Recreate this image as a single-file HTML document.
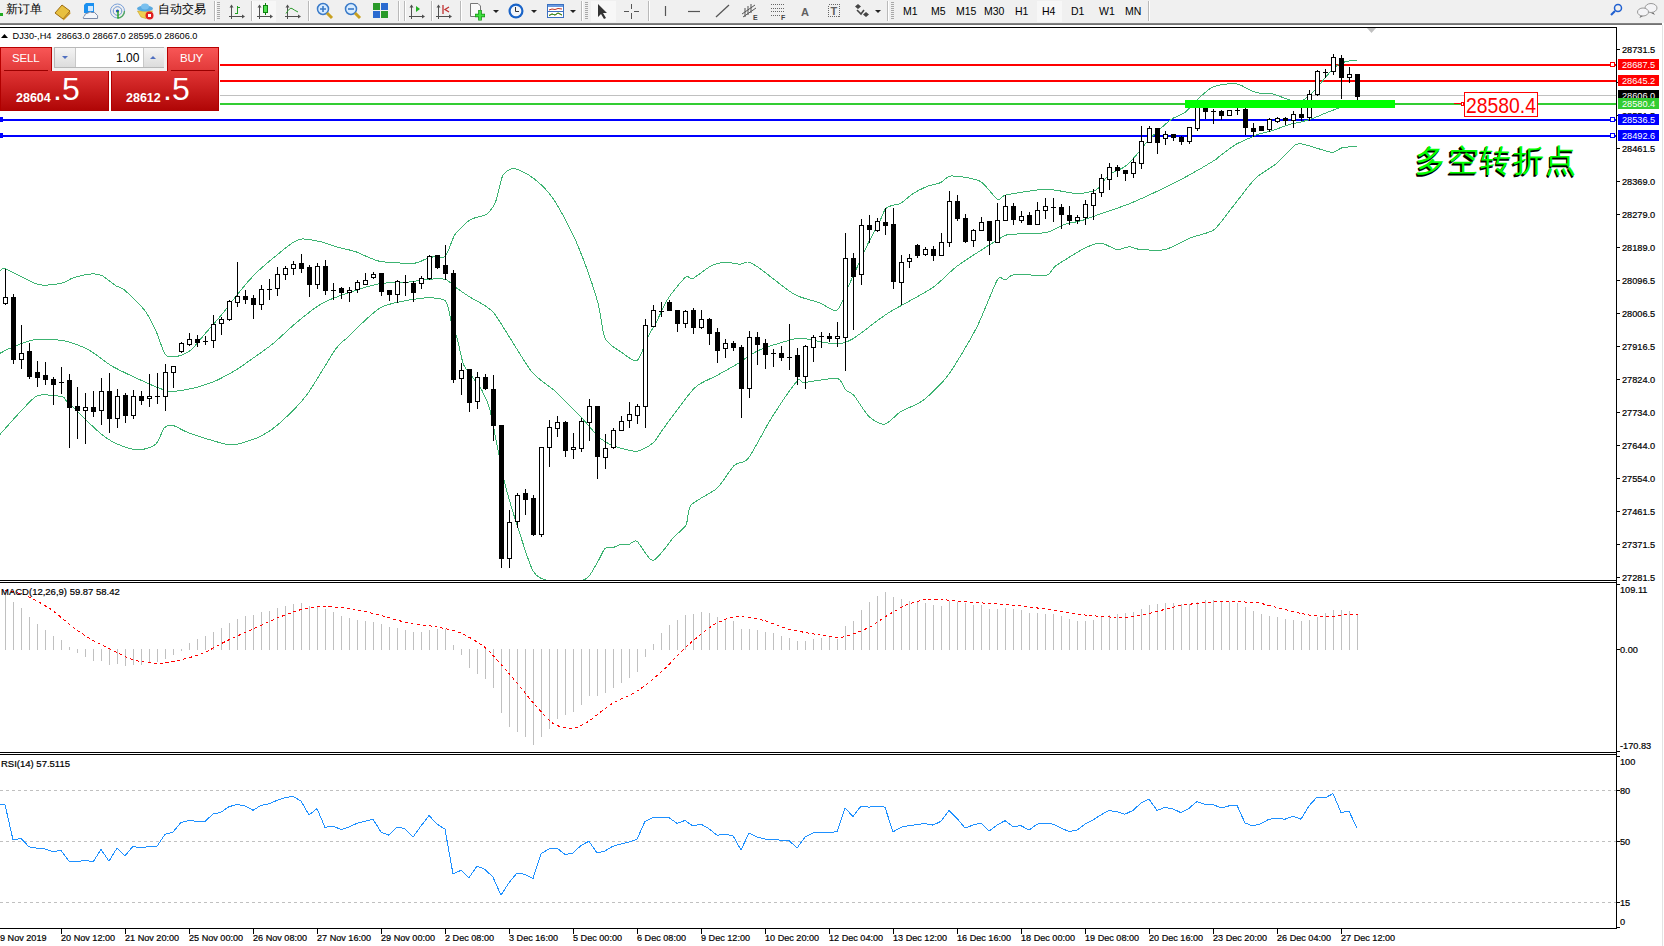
<!DOCTYPE html>
<html><head><meta charset="utf-8"><style>
html,body{margin:0;padding:0;width:1664px;height:946px;overflow:hidden;background:#fff;font-family:"Liberation Sans",sans-serif;}
#tb{position:absolute;left:0;top:0;width:1664px;height:23px;background:#f0f0f0;}
#tbl{position:absolute;left:0;top:23px;width:1662px;height:2px;background:linear-gradient(#8a8a8a,#6a6a6a);}
#rb{position:absolute;left:1662px;top:25px;width:1px;height:921px;background:#e3e3e3;}
svg{position:absolute;left:0;top:0;}
.t{position:absolute;top:4px;font-size:12px;color:#000;white-space:nowrap;}
.tf{position:absolute;top:5px;font-size:10.5px;color:#000;}
.sep{position:absolute;top:1px;width:1px;height:20px;background:#b9b9b9;border-right:1px solid #fff;}
.grip{position:absolute;top:2px;width:3px;height:18px;background:repeating-linear-gradient(#a8a8a8 0 1px,#f0f0f0 1px 2px);}
#panel div{position:absolute;}
.cn{position:absolute;left:1415px;top:140px;font-size:31px;font-weight:normal;color:#00ff00;text-shadow:-1px 1px 0 #000,-1.5px 1.5px 0 #000;letter-spacing:1.5px;white-space:nowrap;}
</style></head><body>
<div id="tb"></div><div id="tbl"></div><div id="rb"></div>
<svg width="1664" height="946" viewBox="0 0 1664 946"><g shape-rendering="crispEdges" fill="none" stroke="#000" stroke-width="1"><path d="M0 27.5H1616.5V928.5H0"/><path d="M0 580.5H1616.5M0 582.5H1616.5M0 752.5H1616.5M0 754.5H1616.5"/></g><g shape-rendering="crispEdges"><rect x="220" y="64" width="1396" height="2" fill="#f00"/><rect x="220" y="80" width="1396" height="2" fill="#f00"/><rect x="220" y="95" width="1396" height="1" fill="#c0c0c0"/><rect x="220" y="103" width="1396" height="2" fill="#32cd32"/><rect x="0" y="119" width="1616" height="2" fill="#00f"/><rect x="0" y="135" width="1616" height="2" fill="#00f"/></g><defs><clipPath id="mc"><rect x="0" y="28" width="1616" height="552"/></clipPath></defs><g fill="none" stroke="#3cb371" stroke-width="1" shape-rendering="crispEdges" clip-path="url(#mc)"><path d="M0 271.1C0.7 270.8 0.9 267.2 5.6 268.9C10.3 270.6 30.9 282.6 37.8 284.4C44.7 286.2 56.7 284.1 61.1 283.3C65.5 282.5 69.5 279 73.3 277.8C77 276.6 87.5 274.3 91.1 274C94.7 273.7 98.9 274.2 102 275.6C105.1 277.1 112.8 283.8 115.6 285.6C118.4 287.4 120.8 286.9 124.4 290C128 293.1 140.5 305 144.4 310C148.3 315 152.9 324.4 155.6 330C158.2 335.6 162.8 351.6 165.6 354.9C168.4 358.2 174.6 356.8 177.8 356.2C181 355.6 187.8 352.8 191.1 350C194.4 347.2 200.8 338.6 204.6 334.2C208.4 329.8 217.3 320 221.6 314.8C225.8 309.6 234.3 298.1 238.6 292.9C242.8 287.7 251 278.1 255.6 273.5C260.2 268.9 270.5 260.3 275.1 256.5C279.7 252.7 288.8 245.3 292.1 243.1C295.4 240.9 298.2 239.2 301.8 239C305.4 238.8 317.1 240.9 321.3 241.9C325.6 242.9 331.6 245.5 335.8 246.7C340.1 247.9 349.8 249.8 355.3 251.6C360.8 253.4 372.3 259.8 379.6 261.3C386.9 262.8 408.1 263.4 413.6 263.3C419.1 263.2 420.9 260.9 423.3 260.1C425.7 259.3 430.4 257.3 433.1 256.9C435.8 256.4 442.5 259.3 445.2 256.5C447.9 253.7 451.9 239.2 455 234.6C458.1 230 466.3 222.4 470.2 219.8C474.1 217.2 483.3 216.5 486.5 214.2C489.7 211.9 493.8 206 495.8 201.2C497.8 196.4 500.5 179.7 502.8 175.6C505.1 171.5 510.6 168.3 514.4 168.6C518.2 168.9 528.4 174.4 533 177.9C537.6 181.4 547 190.1 551.6 196.5C556.2 202.9 566.1 220.9 570.2 229C574.3 237.1 580.7 252.3 584.2 261.6C587.7 270.9 595.5 293.9 598.1 303.5C600.7 313.1 602.2 332.3 605.1 338.4C608 344.5 617.4 349.6 621.4 352.3C625.4 355.1 633.8 362.4 637.2 360.4C640.6 358.4 645.9 341 648.3 336.2C650.7 331.4 653.8 327 656.3 322.2C658.8 317.4 664.7 303.6 668.4 298C672.1 292.4 682.7 279.5 685.7 277.1C688.8 274.7 689.6 279.9 692.8 278.5C696 277.1 707.3 267.7 711.4 265.7C715.5 263.7 722 262.4 725.6 262.2C729.2 262 737 264.2 739.9 264.2C742.8 264.2 745.9 261.5 748.4 262C750.9 262.5 754.2 264.5 759.9 268.5C765.6 272.5 786.6 289.9 794.1 294.2C801.6 298.5 814.4 300.8 819.8 302.8C825.2 304.8 833.4 312.6 837.1 310.2C840.9 307.8 845.8 291.7 849.8 283.2C853.8 274.7 865.2 249.4 868.8 242C872.4 234.6 876.5 228.2 878.6 224C880.7 219.8 883.8 211.1 885.5 208.8C887.2 206.5 890.4 206.1 892.3 205.4C894.2 204.7 898 204.9 900.6 203.4C903.2 201.9 909.6 195.8 912.9 193.7C916.2 191.6 923.3 188 926.7 186.6C930.1 185.2 937.3 184 940.4 182.7C943.5 181.4 946.4 176.2 951.3 176C956.2 175.8 974 178.2 979.8 181.1C985.6 184 994.3 197.7 997.5 199.4C1000.7 201.2 999.7 196.4 1005.7 195.1C1011.7 193.8 1037 189.5 1045.8 189.3C1054.6 189.1 1070.2 193.3 1076 193.6C1081.8 193.8 1089.5 192 1092.3 191.3C1095 190.7 1096 190.4 1098 188.4C1100 186.4 1105.3 177.9 1108.7 175.2C1112.1 172.4 1121.9 168.8 1125.2 166.4C1128.5 164 1132.6 159.2 1135.3 156.2C1138 153.2 1143.7 145.6 1146.7 142.3C1149.7 139 1156.2 132.5 1159.4 129.6C1162.6 126.7 1168.9 120.9 1172.1 118.8C1175.3 116.7 1181.6 114.9 1184.8 112.5C1188 110.1 1194.2 102.4 1197.6 99.3C1200.9 96.2 1208.1 89.6 1211.6 87.7C1215.1 85.8 1222.2 84.6 1225.5 84.2C1228.8 83.8 1235 83.3 1238.3 84.2C1241.6 85.1 1249.4 90 1252.3 91.2C1255.2 92.4 1259 93.1 1261.6 93.5C1264.2 93.9 1270.2 93.4 1273.2 94.1C1276.2 94.8 1283.5 97.8 1286 98.7C1288.5 99.6 1290.8 100.8 1293 101C1295.2 101.2 1300.6 101.3 1303.3 99.9C1306 98.5 1311.4 93.6 1314.9 90C1318.4 86.4 1328 74.1 1331.2 70.8C1334.4 67.5 1338.2 64.5 1340.5 63.3C1342.8 62.1 1347.7 61.3 1349.8 60.9C1351.9 60.5 1356.1 60.4 1357 60.3"/><path d="M0 353.3C1.4 352.6 6.9 349.5 11.1 347.8C15.3 346.1 26.8 340.9 33.3 340C39.8 339.1 56.3 339.4 63.3 340.7C70.2 341.9 82.9 346.9 88.9 350C94.9 353.1 105.5 362.3 111.1 365.6C116.6 368.9 127.7 374.1 133.3 376.7C138.9 379.3 150.9 384.8 155.6 386.7C160.3 388.6 166.3 391.2 170.6 391.5C174.9 391.8 186 389.6 190 388.9C194 388.2 198.7 386.9 202.3 385.7C206 384.5 214.7 381.4 219.2 379.2C223.7 377 234.8 370.7 238.6 368.3C242.4 365.9 245.8 363.3 250 360.3C254.2 357.3 266.7 348.8 272.6 344C278.5 339.2 290.9 327.1 297 322.1C303.1 317.1 314.9 307.5 321.3 303.9C327.7 300.2 340.7 295.4 348 292.9C355.3 290.4 372 285.1 379.6 283.7C387.2 282.3 403 282.5 408.8 282C414.6 281.5 421.8 279.7 426.4 279.4C431 279.1 441.6 278.3 445.4 279.4C449.2 280.5 453.4 285.8 456.5 288C459.6 290.2 466.6 295 470 297.1C473.4 299.2 481 303.1 484 305.1C487 307.1 490.8 309.1 494.1 313.2C497.4 317.3 505.4 330.9 510.2 338.3C515 345.7 526.7 365.9 532.2 372.4C537.7 378.9 549.5 386.2 554.3 390.5C559.1 394.8 566.9 403.1 570.4 406.6C573.9 410.1 578.9 414.8 582.4 418.6C585.9 422.4 595 433.4 598.5 436.7C602 440 607.9 443.3 610.6 444.7C613.3 446.1 616.8 447.2 620.1 448C623.4 448.8 633.1 451.8 637.2 451.2C641.4 450.6 650 445.6 653.3 442.8C656.6 440 658.2 435.5 663.3 428.7C668.4 421.9 687.6 394.9 694.2 388.3C700.8 381.7 710.6 379 716 376C721.4 373 731.5 367.4 737 364.1C742.5 360.8 752.4 353 759.9 349.8C767.4 346.6 790.3 339.6 797 338.4C803.7 337.2 808.3 339.7 813.3 340.4C818.3 341.1 832 344.2 837 344C842 343.8 846.6 342.5 853 338.7C859.4 334.9 877.9 319.6 887.8 313.3C897.7 307 923.5 293.9 932.2 288C940.9 282.1 948.9 272.2 957.6 265.8C966.3 259.4 995.2 241.1 1002 237.2C1008.8 233.3 1006.5 234.9 1012 234.3C1017.5 233.7 1039.2 233.8 1045.8 232.6C1052.3 231.4 1060 225.9 1064.4 224.4C1068.8 222.9 1076.2 222.2 1080.7 220.9C1085.2 219.6 1094 216.2 1100 214.1C1106 212 1121.4 206.9 1128.5 204.1C1135.6 201.2 1150 194.7 1157.1 191.3C1164.2 187.9 1178.5 180.8 1185.6 177C1192.7 173.2 1209.9 163.2 1214.2 160.5C1218.5 157.8 1217.3 157.8 1220 155.8C1222.7 153.8 1231.9 146.7 1235.9 144.4C1239.9 142.1 1248.9 138.4 1251.7 137.1C1254.5 135.8 1255.7 135.1 1258.1 134.3C1260.5 133.6 1267.6 132.1 1270.8 131.1C1274 130.1 1280.7 127.5 1283.5 126.6C1286.3 125.6 1290.9 124 1293 123.5C1295.1 123 1297.5 122.8 1300 122.2C1302.5 121.6 1309.3 119.7 1312.6 118.5C1315.9 117.3 1323.2 114 1326.5 112.7C1329.8 111.4 1335.5 109.1 1339.3 108C1343.1 106.9 1354.8 104.5 1357 104"/><path d="M0 434.4C2.5 431.6 15.3 417 20 412.2C24.7 407.4 32.5 397.5 37.8 395.6C43.1 393.7 58.6 396 62.2 396.7C65.8 397.4 62.2 396.8 66.7 401.1C71.2 405.4 91.7 425.8 97.8 431.1C103.9 436.4 110.6 440.9 115.6 443.3C120.6 445.7 132.8 449.9 137.8 450C142.8 450.1 152.3 447.2 155.6 444.4C158.9 441.6 162.2 430.1 164.4 427.8C166.6 425.5 170.1 424.9 173.3 425.6C176.5 426.3 183.1 431 190 433.4C196.9 435.8 221.9 443.8 228.9 444.8C235.9 445.8 241.7 442.9 245.9 441.7C250.2 440.5 258.6 437.4 262.9 435.1C267.1 432.8 274.4 428 279.9 423C285.4 418 299.7 404.3 306.7 395C313.7 385.7 330.6 356.1 335.8 348.8C341 341.6 342.4 342.2 348 337C353.6 331.8 371.9 312.3 381 307.5C390.1 302.7 412.9 299.2 420.9 298.3C428.9 297.4 441.4 297.7 445.2 300.7C449 303.7 449.8 317.3 451.3 322.1C452.8 326.9 455.9 333.9 457.4 339.1C458.9 344.3 461.5 359.3 463.3 364C465.1 368.7 469.7 373.1 472 376.4C474.3 379.7 479.7 386.2 482 390.5C484.3 394.8 488.1 403.1 490.1 410.6C492.1 418.1 496.2 441.3 498.1 450.7C500 460.1 502.8 475.5 505.4 485.6C508 495.7 515.6 520.7 519.1 531.4C522.6 542.1 529.5 564.8 533 570.9C536.5 577 540.6 579.1 547 580.2C553.4 581.3 578 581.9 584.3 579.8C590.5 577.6 594.4 566.9 597 563C599.6 559.1 603 550.4 605 548.5C607 546.6 611 548 613 547.5C615 547 619 544.9 621 544.5C623 544.1 627 544.9 629 544.5C631 544.1 634 539.3 637 541.3C640 543.3 648.4 560.9 653 560.4C657.6 559.9 669.6 541.7 673.7 537.3C677.8 532.9 683.8 529 686 525C688.2 521 687.3 509.6 691.2 505C695.1 500.4 711.7 493.1 717.1 488.2C722.5 483.2 730.3 469.1 734.2 465.4C738.1 461.6 743.8 464.1 748.4 458.2C753 452.3 765.2 427.9 771.3 418.3C777.4 408.7 792.9 385.7 797 381.2C801.1 376.7 799.4 382.9 804.4 382.5C809.4 382.1 832 377.5 837.1 378.4C842.2 379.3 843.3 387.7 845.4 389.8C847.5 391.9 851.1 392.2 854 395.5C856.9 398.8 865 412.8 868.8 416.4C872.6 420 880.7 424.9 884.7 424.3C888.7 423.7 895.8 414.7 900.5 411.7C905.2 408.7 916.8 405.2 922.7 400.6C928.7 396 941.4 384.3 948.1 375.2C954.8 366.1 970.5 339.5 976.6 327.6C982.8 315.7 993.7 285.9 997.3 280C1000.9 274.1 1003 280.7 1005.2 280C1007.4 279.3 1009.6 274.9 1014.7 274.3C1019.9 273.7 1041.2 276.4 1046.4 275.3C1051.6 274.2 1051.1 269.2 1055.9 265.8C1060.7 262.4 1078.9 251.1 1084.5 248.3C1090.1 245.5 1096.7 243 1100.8 243.2C1104.9 243.3 1113.4 249.1 1117 249.5C1120.6 249.9 1126.6 246.8 1129.5 246.8C1132.4 246.8 1135.8 249.2 1140.3 249.5C1144.8 249.8 1159.2 251 1165.5 249.5C1171.8 248 1184.5 240.3 1190.6 237.8C1196.7 235.3 1208.6 233.7 1214 229.7C1219.4 225.7 1228.5 211.9 1233.7 205.5C1238.9 199.1 1249.9 183.8 1255.3 178.5C1260.7 173.2 1272 167.3 1276.9 163.2C1281.8 159 1291.7 147.7 1294.8 145.3C1297.9 142.9 1299.3 143.7 1302 144C1304.7 144.3 1312.6 146.9 1316.4 148C1320.2 149.1 1329.4 152.5 1332.5 152.5C1335.6 152.5 1338.4 148.8 1341.5 148C1344.6 147.2 1355.1 146.4 1357 146.2"/></g><g shape-rendering="crispEdges" stroke="#000" stroke-width="1"><path fill="none" d="M5.5 269V305M13.5 294V364M21.5 325V369M29.5 343V379M37.5 361V387M45.5 362V385M53.5 377V405M61.5 367V394M69.5 374V448M77.5 387V439M85.5 393V444M93.5 391V417M101.5 378V425M109.5 373V433M117.5 389V428M125.5 393V423M133.5 390V419M141.5 391V405M149.5 374V407M157.5 373V404M165.5 364V411M173.5 366V388M181.5 342V353M189.5 333V346M197.5 335V347M205.5 336V345M213.5 315V348M221.5 317V335M229.5 300V321M237.5 262V307M245.5 290V304M253.5 295V319M261.5 285V310M269.5 279V300M277.5 267V296M285.5 266V280M293.5 261V275M301.5 254V273M309.5 265V297M317.5 263V289M325.5 260V295M333.5 283V300M341.5 287V299M349.5 287V302M357.5 280V293M365.5 273V285M373.5 272V279M381.5 273V296M389.5 290V301M397.5 280V303M405.5 275V296M413.5 281V302M421.5 276V289M429.5 255V280M437.5 255V269M445.5 245V280M453.5 270V383M461.5 363V395M469.5 369V412M477.5 372V409M485.5 374V390M493.5 375V441M501.5 425V568M509.5 510V568M517.5 493V528M525.5 489V515M533.5 495V536M541.5 447V537M549.5 420V467M557.5 416V437M565.5 421V457M573.5 433V459M581.5 418V452M589.5 399V441M597.5 406V479M605.5 434V469M613.5 428V449M621.5 416V431M629.5 402V428M637.5 404V424M645.5 319V428M653.5 305V327M661.5 302V317M669.5 300V311M677.5 310V332M685.5 310V328M693.5 308V334M701.5 310V329M709.5 318V345M717.5 328V363M725.5 339V358M733.5 341V351M741.5 345V418M749.5 331V398M757.5 332V365M765.5 339V369M773.5 349V367M781.5 346V361M789.5 324V370M797.5 348V385M805.5 345V389M813.5 335V362M821.5 332V348M829.5 333V342M837.5 322V347M845.5 233V371M853.5 253V330M861.5 219V285M869.5 215V243M877.5 218V232M885.5 208V235M893.5 208V289M901.5 255V305M909.5 254V268M917.5 244V258M925.5 247V256M933.5 246V261M941.5 233V256M949.5 191V247M957.5 195V221M965.5 214V243M973.5 229V247M981.5 217V231M989.5 221V255M997.5 203V243M1005.5 195V221M1013.5 203V225M1021.5 211V223M1029.5 212V225M1037.5 202V225M1045.5 198V219M1053.5 198V222M1061.5 204V229M1069.5 206V225M1077.5 215V224M1085.5 200V225M1093.5 189V220M1101.5 174V197M1109.5 163V190M1117.5 165V177M1125.5 170V181M1133.5 158V178M1141.5 126V169M1149.5 126V143M1157.5 128V154M1165.5 131V145M1173.5 134V141M1181.5 136V145M1189.5 127V144M1197.5 102V131M1205.5 107V119M1213.5 109V124M1221.5 110V120M1229.5 110V116M1237.5 108V115M1245.5 108V135M1253.5 123V137M1261.5 126V131M1269.5 118V132M1277.5 117V123M1285.5 117V125M1293.5 111V128M1301.5 108V121M1309.5 90V121M1317.5 70V96M1325.5 69V78M1333.5 54V75M1341.5 55V99M1349.5 67V83M1357.5 74V101"/><path fill="none" d="M59 382.5H64M155 396.5H160M203 341.5H208M267 289.5H272M331 290.5H336M403 282.5H408M659 311.5H664M771 353.5H776M787 357.5H792M819 336.5H824M1051 207.5H1056M1211 111.5H1216M1235 110.5H1240M1323 72.5H1328"/><g fill="#fff"><rect x="3.5" y="297.5" width="4" height="6"/><rect x="19.5" y="353.5" width="4" height="6"/><rect x="83.5" y="407.5" width="4" height="3"/><rect x="99.5" y="391.5" width="4" height="19"/><rect x="115.5" y="396.5" width="4" height="22"/><rect x="131.5" y="396.5" width="4" height="19"/><rect x="147.5" y="396.5" width="4" height="2"/><rect x="163.5" y="372.5" width="4" height="24"/><rect x="171.5" y="366.5" width="4" height="6"/><rect x="179.5" y="343.5" width="4" height="8"/><rect x="187.5" y="339.5" width="4" height="5"/><rect x="211.5" y="324.5" width="4" height="16"/><rect x="219.5" y="319.5" width="4" height="4"/><rect x="227.5" y="301.5" width="4" height="18"/><rect x="235.5" y="296.5" width="4" height="6"/><rect x="259.5" y="289.5" width="4" height="15"/><rect x="275.5" y="274.5" width="4" height="14"/><rect x="283.5" y="268.5" width="4" height="6"/><rect x="291.5" y="264.5" width="4" height="4"/><rect x="315.5" y="266.5" width="4" height="18"/><rect x="347.5" y="290.5" width="4" height="2"/><rect x="355.5" y="282.5" width="4" height="7"/><rect x="363.5" y="280.5" width="4" height="4"/><rect x="371.5" y="274.5" width="4" height="3"/><rect x="395.5" y="281.5" width="4" height="13"/><rect x="419.5" y="278.5" width="4" height="5"/><rect x="427.5" y="256.5" width="4" height="22"/><rect x="459.5" y="370.5" width="4" height="8"/><rect x="475.5" y="377.5" width="4" height="24"/><rect x="507.5" y="522.5" width="4" height="36"/><rect x="515.5" y="495.5" width="4" height="26"/><rect x="539.5" y="447.5" width="4" height="87"/><rect x="547.5" y="427.5" width="4" height="20"/><rect x="555.5" y="422.5" width="4" height="6"/><rect x="571.5" y="447.5" width="4" height="2"/><rect x="579.5" y="421.5" width="4" height="27"/><rect x="587.5" y="406.5" width="4" height="16"/><rect x="603.5" y="448.5" width="4" height="9"/><rect x="611.5" y="430.5" width="4" height="17"/><rect x="619.5" y="421.5" width="4" height="9"/><rect x="627.5" y="414.5" width="4" height="6"/><rect x="635.5" y="406.5" width="4" height="9"/><rect x="643.5" y="325.5" width="4" height="81"/><rect x="651.5" y="310.5" width="4" height="16"/><rect x="683.5" y="311.5" width="4" height="12"/><rect x="699.5" y="319.5" width="4" height="8"/><rect x="723.5" y="343.5" width="4" height="5"/><rect x="747.5" y="337.5" width="4" height="51"/><rect x="803.5" y="346.5" width="4" height="30"/><rect x="811.5" y="337.5" width="4" height="10"/><rect x="835.5" y="336.5" width="4" height="2"/><rect x="843.5" y="258.5" width="4" height="79"/><rect x="859.5" y="225.5" width="4" height="49"/><rect x="875.5" y="221.5" width="4" height="9"/><rect x="899.5" y="262.5" width="4" height="20"/><rect x="907.5" y="258.5" width="4" height="3"/><rect x="923.5" y="249.5" width="4" height="5"/><rect x="939.5" y="242.5" width="4" height="13"/><rect x="947.5" y="201.5" width="4" height="41"/><rect x="971.5" y="230.5" width="4" height="10"/><rect x="979.5" y="222.5" width="4" height="8"/><rect x="995.5" y="220.5" width="4" height="22"/><rect x="1003.5" y="206.5" width="4" height="14"/><rect x="1019.5" y="216.5" width="4" height="4"/><rect x="1035.5" y="210.5" width="4" height="14"/><rect x="1043.5" y="206.5" width="4" height="4"/><rect x="1075.5" y="217.5" width="4" height="3"/><rect x="1083.5" y="204.5" width="4" height="13"/><rect x="1091.5" y="193.5" width="4" height="12"/><rect x="1099.5" y="178.5" width="4" height="14"/><rect x="1107.5" y="167.5" width="4" height="12"/><rect x="1131.5" y="162.5" width="4" height="11"/><rect x="1139.5" y="141.5" width="4" height="22"/><rect x="1147.5" y="128.5" width="4" height="14"/><rect x="1163.5" y="134.5" width="4" height="4"/><rect x="1187.5" y="127.5" width="4" height="14"/><rect x="1195.5" y="102.5" width="4" height="26"/><rect x="1227.5" y="110.5" width="4" height="5"/><rect x="1267.5" y="119.5" width="4" height="10"/><rect x="1275.5" y="118.5" width="4" height="3"/><rect x="1291.5" y="114.5" width="4" height="6"/><rect x="1307.5" y="94.5" width="4" height="23"/><rect x="1315.5" y="71.5" width="4" height="23"/><rect x="1331.5" y="57.5" width="4" height="14"/><rect x="1347.5" y="74.5" width="4" height="3"/></g><g fill="#000" stroke="none"><rect x="11" y="297" width="5" height="63"/><rect x="27" y="351" width="5" height="26"/><rect x="35" y="372" width="5" height="6"/><rect x="43" y="375" width="5" height="5"/><rect x="51" y="379" width="5" height="6"/><rect x="67" y="380" width="5" height="28"/><rect x="75" y="406" width="5" height="5"/><rect x="91" y="407" width="5" height="5"/><rect x="107" y="391" width="5" height="28"/><rect x="123" y="395" width="5" height="21"/><rect x="139" y="396" width="5" height="5"/><rect x="195" y="339" width="5" height="4"/><rect x="243" y="296" width="5" height="4"/><rect x="251" y="298" width="5" height="7"/><rect x="299" y="263" width="5" height="6"/><rect x="307" y="267" width="5" height="18"/><rect x="323" y="266" width="5" height="25"/><rect x="339" y="288" width="5" height="5"/><rect x="379" y="273" width="5" height="19"/><rect x="387" y="290" width="5" height="5"/><rect x="411" y="283" width="5" height="10"/><rect x="435" y="255" width="5" height="13"/><rect x="443" y="265" width="5" height="9"/><rect x="451" y="273" width="5" height="107"/><rect x="467" y="369" width="5" height="34"/><rect x="483" y="377" width="5" height="12"/><rect x="491" y="389" width="5" height="37"/><rect x="499" y="425" width="5" height="134"/><rect x="523" y="493" width="5" height="7"/><rect x="531" y="498" width="5" height="37"/><rect x="563" y="422" width="5" height="29"/><rect x="595" y="406" width="5" height="51"/><rect x="667" y="302" width="5" height="9"/><rect x="675" y="310" width="5" height="14"/><rect x="691" y="310" width="5" height="18"/><rect x="707" y="319" width="5" height="15"/><rect x="715" y="332" width="5" height="19"/><rect x="731" y="343" width="5" height="5"/><rect x="739" y="347" width="5" height="42"/><rect x="755" y="337" width="5" height="8"/><rect x="763" y="343" width="5" height="12"/><rect x="779" y="353" width="5" height="5"/><rect x="795" y="355" width="5" height="22"/><rect x="827" y="336" width="5" height="3"/><rect x="851" y="258" width="5" height="19"/><rect x="867" y="225" width="5" height="5"/><rect x="883" y="222" width="5" height="4"/><rect x="891" y="224" width="5" height="58"/><rect x="915" y="245" width="5" height="11"/><rect x="931" y="249" width="5" height="7"/><rect x="955" y="201" width="5" height="18"/><rect x="963" y="218" width="5" height="24"/><rect x="987" y="221" width="5" height="20"/><rect x="1011" y="206" width="5" height="14"/><rect x="1027" y="215" width="5" height="10"/><rect x="1059" y="207" width="5" height="8"/><rect x="1067" y="215" width="5" height="6"/><rect x="1115" y="167" width="5" height="4"/><rect x="1123" y="170" width="5" height="4"/><rect x="1155" y="128" width="5" height="15"/><rect x="1171" y="134" width="5" height="4"/><rect x="1179" y="137" width="5" height="5"/><rect x="1203" y="108" width="5" height="4"/><rect x="1219" y="111" width="5" height="5"/><rect x="1243" y="109" width="5" height="19"/><rect x="1251" y="128" width="5" height="4"/><rect x="1259" y="126" width="5" height="5"/><rect x="1283" y="118" width="5" height="3"/><rect x="1299" y="114" width="5" height="4"/><rect x="1339" y="58" width="5" height="20"/><rect x="1355" y="74" width="5" height="23"/></g></g><g shape-rendering="crispEdges"><rect x="1610.5" y="62.5" width="4" height="4" fill="#fff" stroke="#f00"/><rect x="1610.5" y="117.5" width="4" height="4" fill="#fff" stroke="#00f"/><rect x="1610.5" y="133.5" width="4" height="4" fill="#fff" stroke="#00f"/><rect x="0" y="117" width="3" height="5" fill="#00f"/><rect x="0" y="133" width="3" height="5" fill="#00f"/><rect x="1185" y="100" width="210" height="8" fill="#00ff00"/></g><g shape-rendering="crispEdges"><rect x="1454" y="103" width="8" height="1" fill="#f00"/><rect x="1461.5" y="102.5" width="2" height="3" fill="#fff" stroke="#f00"/><rect x="1464.5" y="92.5" width="73" height="24" fill="#fff" stroke="#f00"/></g><text x="1466" y="113" font-family="Liberation Sans, sans-serif" font-size="21.5" fill="#f00" textLength="70" lengthAdjust="spacingAndGlyphs">28580.4</text><g shape-rendering="crispEdges" stroke="#c0c0c0" stroke-width="1"><path d="M5.5 650V591M13.5 650V602M21.5 650V608M29.5 650V617M37.5 650V624M45.5 650V630M53.5 650V636M61.5 650V640M69.5 650V647M77.5 649V653M85.5 649V657M93.5 649V661M101.5 649V661M109.5 649V665M117.5 649V664M125.5 649V666M133.5 649V665M141.5 649V665M149.5 649V663M157.5 649V662M165.5 649V659M173.5 649V655M181.5 649V651M189.5 650V643M197.5 650V639M205.5 650V636M213.5 650V632M221.5 650V628M229.5 650V623M237.5 650V619M245.5 650V616M253.5 650V615M261.5 650V612M269.5 650V611M277.5 650V608M285.5 650V606M293.5 650V604M301.5 650V603M309.5 650V606M317.5 650V606M325.5 650V609M333.5 650V612M341.5 650V616M349.5 650V618M357.5 650V620M365.5 650V621M373.5 650V622M381.5 650V624M389.5 650V627M397.5 650V628M405.5 650V630M413.5 650V632M421.5 650V632M429.5 650V630M437.5 650V629M445.5 650V629M453.5 650V645M461.5 649V655M469.5 649V668M477.5 649V674M485.5 649V679M493.5 649V688M501.5 649V713M509.5 649V727M517.5 649V732M525.5 649V737M533.5 649V745M541.5 649V737M549.5 649V729M557.5 649V719M565.5 649V715M573.5 649V712M581.5 649V705M589.5 649V696M597.5 649V696M605.5 649V693M613.5 649V688M621.5 649V683M629.5 649V678M637.5 649V672M645.5 649V657M653.5 650V644M661.5 650V633M669.5 650V625M677.5 650V620M685.5 650V615M693.5 650V614M701.5 650V612M709.5 650V613M717.5 650V617M725.5 650V619M733.5 650V621M741.5 650V629M749.5 650V629M757.5 650V630M765.5 650V632M773.5 650V633M781.5 650V636M789.5 650V638M797.5 650V641M805.5 650V641M813.5 650V639M821.5 650V638M829.5 650V637M837.5 650V639M845.5 650V626M853.5 650V621M861.5 650V610M869.5 650V602M877.5 650V596M885.5 650V592M893.5 650V597M901.5 650V599M909.5 650V601M917.5 650V602M925.5 650V603M933.5 650V605M941.5 650V606M949.5 650V601M957.5 650V602M965.5 650V603M973.5 650V605M981.5 650V605M989.5 650V609M997.5 650V609M1005.5 650V608M1013.5 650V609M1021.5 650V610M1029.5 650V613M1037.5 650V613M1045.5 650V614M1053.5 650V614M1061.5 650V616M1069.5 650V619M1077.5 650V621M1085.5 650V621M1093.5 650V620M1101.5 650V617M1109.5 650V615M1117.5 650V614M1125.5 650V613M1133.5 650V612M1141.5 650V609M1149.5 650V605M1157.5 650V604M1165.5 650V603M1173.5 650V603M1181.5 650V604M1189.5 650V604M1197.5 650V602M1205.5 650V600M1213.5 650V600M1221.5 650V602M1229.5 650V602M1237.5 650V603M1245.5 650V607M1253.5 650V611M1261.5 650V614M1269.5 650V616M1277.5 650V617M1285.5 650V619M1293.5 650V620M1301.5 650V621M1309.5 650V620M1317.5 650V617M1325.5 650V613M1333.5 650V610M1341.5 650V610M1349.5 650V611M1357.5 650V614"/></g><path fill="none" stroke="#f00" stroke-width="1" stroke-dasharray="3,3" shape-rendering="crispEdges" d="M5 590C7.5 590.6 19.5 592.8 25.2 595.2C30.9 597.6 44.2 604.8 50.5 609.1C56.8 613.4 70 625.2 75.7 629.3C81.4 633.4 89.6 638.4 95.9 641.9C102.2 645.4 120.5 654.5 126.2 657C131.9 659.5 136.9 660.8 141.3 661.6C145.7 662.4 157.1 663.4 161.5 663.3C165.9 663.2 171.6 662 176.7 660.8C181.8 659.6 195.6 656.2 201.9 653.7C208.2 651.2 220.9 643.7 227.2 640.6C233.5 637.5 246.1 632.1 252.4 629.3C258.7 626.5 271.3 620.4 277.6 617.9C283.9 615.4 296.9 610.5 302.9 609.1C308.9 607.7 319.3 606.5 325.6 606.5C331.9 606.5 346.8 608.1 353.4 609.1C360 610.1 371.5 613.1 378.6 614.9C385.7 616.7 402.9 621.9 410 623.4C417.1 624.9 428.9 625.5 435.2 626.7C441.5 627.9 454.2 630.3 460.5 633C466.8 635.7 479.4 642.7 485.7 648.1C492 653.5 504.7 668.6 511 675.9C517.3 683.2 530.8 700.2 536.2 706.2C541.6 712.2 549.5 721.1 553.9 723.9C558.3 726.7 567.4 728.6 571.5 728.4C575.6 728.2 581.7 725.7 586.7 722.6C591.8 719.5 605.6 707.6 611.9 703.7C618.2 699.8 630.9 695.2 637.2 691.1C643.5 687 656.1 676.6 662.4 670.9C668.7 665.2 681.3 651.3 687.6 645.6C693.9 639.9 706.9 629 712.9 625.4C718.9 621.8 729.3 617.2 735.6 616.6C741.9 616 756.8 618.8 763.4 620.4C770 622 781.5 627.4 788.6 629.2C795.7 631 813.9 634 820 635C826.1 636 833.9 637.5 837.7 637.5C841.5 637.5 846.2 636.4 850.3 635C854.4 633.6 866.1 629 870.5 626.7C874.9 624.4 881.2 619.3 885.6 616.6C890 613.9 900.8 607.4 905.8 605.2C910.8 603.1 921.6 600.1 926 599.4C930.4 598.7 936.8 599.1 941.2 599.4C945.6 599.7 954.4 600.9 961.3 601.5C968.2 602.1 989.1 603.4 996.7 604C1004.3 604.6 1013.7 605.1 1021.9 606C1030.1 606.9 1054.1 610.3 1062.3 611.5C1070.5 612.7 1079.9 614.6 1087.5 615.3C1095.1 616 1115.3 617.6 1122.9 617.4C1130.5 617.2 1141.2 615 1148.1 613.6C1155 612.2 1172.1 607.3 1178.4 606C1184.7 604.7 1193.2 603.8 1198.6 603.2C1204 602.6 1214.4 601.6 1221.5 601.5C1228.6 601.4 1250 602.1 1255.5 602.5C1261 602.9 1263.1 604 1265.6 604.6C1268.1 605.2 1272.9 606.4 1275.7 607.1C1278.5 607.8 1285.1 609.5 1288.3 610.3C1291.5 611.1 1297.8 612.7 1301 613.4C1304.2 614.1 1309.3 615.2 1313.6 615.6C1317.8 616 1331.7 616.6 1335 616.6C1338.3 616.6 1337.3 615.6 1340.1 615.3C1342.9 615 1355.3 614.4 1357.5 614.3"/><g shape-rendering="crispEdges" stroke="#c0c0c0" stroke-dasharray="3,3"><path d="M0 790.5H1616"/><path d="M0 841.5H1616"/><path d="M0 902.5H1616"/></g><polyline fill="none" stroke="#1e90ff" stroke-width="1" shape-rendering="crispEdges" points="0,804.5 5,804.7 13,839.9 21,838.5 29,846.8 37,848.1 45,849 53,851.5 61,850.4 69,861.1 77,862 85,860 93,862 101,849.5 109,861.1 117,848.1 125,855.9 133,846.2 141,848.1 149,846.2 157,846.2 165,834.3 173,832.1 181,822.4 189,820.5 197,821.3 205,821.3 213,814.1 221,812.2 229,806.7 237,804.5 245,805.8 253,810.3 261,805.3 269,803.9 277,800.3 285,797.6 293,796.4 301,801.1 309,815 317,808.6 325,827.4 333,826 341,829.6 349,826.9 357,823.3 365,821.3 373,819.1 381,832.1 389,835.2 397,826.9 405,828.8 413,837.1 421,826 429,815.5 437,824.1 445,829.2 453,874 461,870.3 469,877.7 477,866.1 485,869.4 493,877.2 501,895.1 509,882.7 517,873 525,874.4 533,878.6 541,853.7 549,849 557,848.1 565,854.5 573,853.1 581,845.4 589,841.2 597,853.1 605,850.9 613,846.2 621,844 629,842.1 637,839.3 645,821.3 653,817.7 661,817.7 669,817.7 677,823.3 685,820.5 693,826 701,824.1 709,828.8 717,835.2 725,834.3 733,835.7 741,850.1 749,832.9 757,837.1 765,839 773,839 781,840.4 789,840.4 797,848.1 805,837.1 813,832.9 821,832.9 829,832.9 837,831.6 845,808.1 853,816.4 861,806.1 869,807.2 877,806.1 885,807.2 893,832 901,827.2 909,825.7 917,824.5 925,823.6 933,825.1 941,821.3 949,810.4 957,818.3 965,828 973,825.1 981,823 989,831 997,825.1 1005,820.7 1013,826.6 1021,825.7 1029,830.1 1037,824.2 1045,823 1053,824.2 1061,828 1069,831.6 1077,830.1 1085,824.2 1093,820.1 1101,814.8 1109,810.4 1117,811.8 1125,814.2 1133,810.4 1141,803 1149,799.2 1157,810.4 1165,807.4 1173,808.9 1181,812.7 1189,808.3 1197,801.5 1205,804.5 1213,804.5 1221,808 1229,805.9 1237,805.4 1245,823 1253,826 1261,823.6 1269,819.2 1277,818.3 1285,819.2 1293,816.3 1301,819.2 1309,805.9 1317,797.1 1325,798 1333,793.6 1341,812.4 1349,811.2 1357,828"/><g shape-rendering="crispEdges" stroke="#000"><path d="M1617 49.5H1620M1617 82.5H1620M1617 115.5H1620M1617 148.5H1620M1617 181.5H1620M1617 214.5H1620M1617 247.5H1620M1617 280.5H1620M1617 313.5H1620M1617 346.5H1620M1617 379.5H1620M1617 412.5H1620M1617 445.5H1620M1617 478.5H1620M1617 511.5H1620M1617 544.5H1620M1617 577.5H1620M1617 584.5H1620M1617 649.5H1620M1617 751.5H1620M1617 756.5H1620M1617 790.5H1620M1617 841.5H1620M1617 902.5H1620M1617 927.5H1620"/></g><g font-family="Liberation Sans, sans-serif" font-size="9.2" fill="#000" stroke="#000" stroke-width="0.2"><text x="1622" y="52.5">28731.5</text><text x="1622" y="118.5">28551.5</text><text x="1622" y="151.5">28461.5</text><text x="1622" y="184.5">28369.0</text><text x="1622" y="217.5">28279.0</text><text x="1622" y="250.5">28189.0</text><text x="1622" y="283.5">28096.5</text><text x="1622" y="316.5">28006.5</text><text x="1622" y="349.5">27916.5</text><text x="1622" y="382.5">27824.0</text><text x="1622" y="415.5">27734.0</text><text x="1622" y="448.5">27644.0</text><text x="1622" y="481.5">27554.0</text><text x="1622" y="514.5">27461.5</text><text x="1622" y="547.5">27371.5</text><text x="1622" y="580.5">27281.5</text><text x="1620" y="593.0">109.11</text><text x="1620" y="653.0">0.00</text><text x="1620" y="749.0">-170.83</text><text x="1620" y="765.0">100</text><text x="1620" y="794.0">80</text><text x="1620" y="845.0">50</text><text x="1620" y="906.0">15</text><text x="1620" y="925.0">0</text></g><g font-family="Liberation Sans, sans-serif" font-size="9.2"><rect x="1618" y="59" width="41" height="11" fill="#ff0000" shape-rendering="crispEdges"/><text x="1622" y="68" fill="#fff">28687.5</text><rect x="1618" y="75" width="41" height="11" fill="#ff0000" shape-rendering="crispEdges"/><text x="1622" y="84" fill="#fff">28645.2</text><rect x="1618" y="90" width="41" height="11" fill="#000" shape-rendering="crispEdges"/><text x="1622" y="99" fill="#fff">28606.0</text><rect x="1618" y="98" width="41" height="11" fill="#32cd32" shape-rendering="crispEdges"/><text x="1622" y="107" fill="#fff">28580.4</text><rect x="1618" y="114" width="41" height="11" fill="#0000ff" shape-rendering="crispEdges"/><text x="1622" y="123" fill="#fff">28536.5</text><rect x="1618" y="130" width="41" height="11" fill="#0000ff" shape-rendering="crispEdges"/><text x="1622" y="139" fill="#fff">28492.6</text></g><g shape-rendering="crispEdges" stroke="#000"><path d="M61.5 929V934M125.5 929V934M189.5 929V934M253.5 929V934M317.5 929V934M381.5 929V934M445.5 929V934M509.5 929V934M573.5 929V934M637.5 929V934M701.5 929V934M765.5 929V934M829.5 929V934M893.5 929V934M957.5 929V934M1021.5 929V934M1085.5 929V934M1149.5 929V934M1213.5 929V934M1277.5 929V934M1341.5 929V934"/></g><g font-family="Liberation Sans, sans-serif" font-size="9.1" fill="#000" stroke="#000" stroke-width="0.2"><text x="0" y="941">9 Nov 2019</text><text x="61" y="941">20 Nov 12:00</text><text x="125" y="941">21 Nov 20:00</text><text x="189" y="941">25 Nov 00:00</text><text x="253" y="941">26 Nov 08:00</text><text x="317" y="941">27 Nov 16:00</text><text x="381" y="941">29 Nov 00:00</text><text x="445" y="941">2 Dec 08:00</text><text x="509" y="941">3 Dec 16:00</text><text x="573" y="941">5 Dec 00:00</text><text x="637" y="941">6 Dec 08:00</text><text x="701" y="941">9 Dec 12:00</text><text x="765" y="941">10 Dec 20:00</text><text x="829" y="941">12 Dec 04:00</text><text x="893" y="941">13 Dec 12:00</text><text x="957" y="941">16 Dec 16:00</text><text x="1021" y="941">18 Dec 00:00</text><text x="1085" y="941">19 Dec 08:00</text><text x="1149" y="941">20 Dec 16:00</text><text x="1213" y="941">23 Dec 20:00</text><text x="1277" y="941">26 Dec 04:00</text><text x="1341" y="941">27 Dec 12:00</text><text x="1" y="595" font-size="9.5">MACD(12,26,9) 59.87 58.42</text><text x="1" y="767" font-size="9.5">RSI(14) 57.5115</text></g><path d="M1 38L4.5 34L8 38Z" fill="#000"/><text x="12.5" y="39" font-family="Liberation Sans, sans-serif" font-size="9.5" fill="#000" textLength="185" lengthAdjust="spacingAndGlyphs">DJ30-,H4&#160;&#160;28663.0 28667.0 28595.0 28606.0</text><path d="M1367 28H1376L1371.5 33Z" fill="#c0c0c0"/></svg>
<div class="t" style="left:6px;top:1px">新订单</div><div class="t" style="left:158px;top:1px">自动交易</div><div class="sep" style="left:214px"></div><div class="sep" style="left:251px"></div><div class="sep" style="left:308px"></div><div class="sep" style="left:398px"></div><div class="sep" style="left:404px"></div><div class="sep" style="left:431px"></div><div class="sep" style="left:460px"></div><div class="sep" style="left:581px"></div><div class="sep" style="left:648px"></div><div class="sep" style="left:887px"></div><div class="sep" style="left:1037px"></div><div class="sep" style="left:1148px"></div><div class="grip" style="left:217px"></div><div class="grip" style="left:585px"></div><div class="grip" style="left:891px"></div><div style="position:absolute;left:253px;top:1px;width:23px;height:21px;background:#f7f7f7"></div><div style="position:absolute;left:591px;top:1px;width:25px;height:21px;background:#f7f7f7"></div><div style="position:absolute;left:1037px;top:1px;width:25px;height:21px;background:#f7f7f7"></div><div class="tf" style="left:903px">M1</div><div class="tf" style="left:931px">M5</div><div class="tf" style="left:956px">M15</div><div class="tf" style="left:984px">M30</div><div class="tf" style="left:1015px">H1</div><div class="tf" style="left:1042px">H4</div><div class="tf" style="left:1071px">D1</div><div class="tf" style="left:1099px">W1</div><div class="tf" style="left:1125px">MN</div><svg width="1664" height="23" viewBox="0 0 1664 23" style="position:absolute;left:0;top:0"><rect x="0" y="13" width="3" height="3" fill="#22aa22"/><path d="M55 13L62 5L70 11L63 19Z" fill="#e8c040" stroke="#9a6a10"/><path d="M63 19L70 11.5L70.5 13.5L63.5 20.5Z" fill="#c8901a"/><path d="M84 5L86 3H94V13H84Z" fill="#1a90f0"/><rect x="88" y="6" width="5" height="5" fill="#cfe8ff"/><path d="M83.5 18.5H97.5Q98.5 15 96 14Q95 11.5 92 12.5Q90 11 88 13Q84.5 13 84.5 16Q82.5 17 83.5 18.5Z" fill="#f4f6fa" stroke="#7a8aa8"/><circle cx="117.5" cy="11" r="7" fill="none" stroke="#7aa0d8" stroke-width="1"/><circle cx="117.5" cy="11" r="4.3" fill="none" stroke="#6a94d0" stroke-width="1"/><path d="M117.5 18A7 7 0 0 0 124.5 11" stroke="#50a860" stroke-width="1.3" fill="none"/><circle cx="117.5" cy="11" r="1.6" fill="#2050c0"/><path d="M118 11V18.5" stroke="#20a020" stroke-width="1.4"/><path d="M137.5 11L152.5 11L146 18.5L141 17Z" fill="#f0d050" stroke="#c8a020" stroke-width="0.6"/><ellipse cx="145" cy="8.5" rx="8" ry="3" fill="#5aaae0"/><ellipse cx="145" cy="6.5" rx="4" ry="3" fill="#7ac0ee"/><circle cx="149.5" cy="15.5" r="4" fill="#e02020"/><rect x="148" y="14" width="3" height="3" fill="#fff"/><g shape-rendering="crispEdges" fill="#505050"><rect x="231" y="6" width="1" height="13"/><rect x="229" y="16" width="14" height="1"/></g><path d="M231.5 4.5L229.5 7.5H233.5 Z M242.0 14.5L245.0 16.5L242.0 18.5Z" fill="#505050"/><g shape-rendering="crispEdges" fill="#20a020"><rect x="237" y="6" width="1" height="8"/><rect x="238" y="7" width="2" height="1"/><rect x="235" y="13" width="2" height="1"/></g><g shape-rendering="crispEdges" fill="#505050"><rect x="259" y="6" width="1" height="13"/><rect x="257" y="16" width="14" height="1"/></g><path d="M259.5 4.5L257.5 7.5H261.5 Z M270.0 14.5L273.0 16.5L270.0 18.5Z" fill="#505050"/><path d="M265.5 3V15" stroke="#108010" shape-rendering="crispEdges"/><rect x="263.5" y="5.5" width="4" height="7" fill="#50e050" stroke="#108010" shape-rendering="crispEdges"/><g shape-rendering="crispEdges" fill="#505050"><rect x="287" y="6" width="1" height="13"/><rect x="285" y="16" width="14" height="1"/></g><path d="M287.5 4.5L285.5 7.5H289.5 Z M298.0 14.5L301.0 16.5L298.0 18.5Z" fill="#505050"/><path d="M286 13.5Q290 7 292 8.5T298 12" stroke="#2a9a2a" stroke-width="1" fill="none"/><circle cx="323" cy="9" r="5.5" fill="#d8ecff" stroke="#3a7ac8" stroke-width="1.5"/><path d="M327 13L332 18" stroke="#c8a020" stroke-width="3"/><path d="M320 9H326M323 6V12" stroke="#3a7ac8" stroke-width="1.6"/><circle cx="351" cy="9" r="5.5" fill="#d8ecff" stroke="#3a7ac8" stroke-width="1.5"/><path d="M355 13L360 18" stroke="#c8a020" stroke-width="3"/><path d="M348 9H354" stroke="#3a7ac8" stroke-width="1.6"/><rect x="373" y="3" width="7" height="7" fill="#2a9a2a"/><rect x="381" y="3" width="7" height="7" fill="#2a6ad0"/><rect x="373" y="11" width="7" height="7" fill="#2a6ad0"/><rect x="381" y="11" width="7" height="7" fill="#2a9a2a"/><g shape-rendering="crispEdges" fill="#505050"><rect x="411" y="6" width="1" height="13"/><rect x="409" y="16" width="14" height="1"/></g><path d="M411.5 4.5L409.5 7.5H413.5 Z M422.0 14.5L425.0 16.5L422.0 18.5Z" fill="#505050"/><path d="M416 6L420 9L416 12Z" fill="#20b020"/><g shape-rendering="crispEdges" fill="#505050"><rect x="438" y="6" width="1" height="13"/><rect x="436" y="16" width="14" height="1"/></g><path d="M438.5 4.5L436.5 7.5H440.5 Z M449.0 14.5L452.0 16.5L449.0 18.5Z" fill="#505050"/><path d="M443 5V14M449 7L445 9.5L449 12" stroke="#c03030" stroke-width="1.3" fill="none"/><path d="M470.5 3.5H478L480.5 6V16.5H470.5Z" fill="#fafafa" stroke="#777"/><path d="M480 10V20.5M475 15.5H485" stroke="#118a11" stroke-width="3.6"/><path d="M480 10.5V20M475.5 15.5H484.5" stroke="#3ee03e" stroke-width="2"/><circle cx="516" cy="11" r="7.5" fill="#1a64c8"/><circle cx="516" cy="11" r="5.3" fill="#f4f6fa"/><path d="M515.5 7V11.5H519" stroke="#333" fill="none"/><rect x="547.5" y="4.5" width="16" height="13" fill="#fff" stroke="#3a70c0"/><rect x="548" y="5" width="15" height="2" fill="#6a9ae0"/><path d="M548 11.5H563" stroke="#3a70c0"/><path d="M549 10L552 9L555 9.5L558 8.5L562 9M549 15.5L552 14L555 15L558 13L562 15" stroke="#c03020" fill="none"/><path d="M549 15.5L552 14L555 15L558 13L562 15" stroke="#20a020" fill="none"/><path d="M493 10H499L496 13Z" fill="#222"/><path d="M531 10H537L534 13Z" fill="#222"/><path d="M570 10H576L573 13Z" fill="#222"/><path d="M875 10H881L878 13Z" fill="#222"/><path d="M598 4V17L601 14L604 19L606 18L603 13H607Z" fill="#333"/><path d="M631.5 4V9M631.5 13V19M624 11.5H629M634 11.5H639" stroke="#555" shape-rendering="crispEdges"/><path d="M665.5 6V16" stroke="#555" stroke-width="1.2"/><path d="M688 11.5H700" stroke="#555" stroke-width="1.2"/><path d="M716 17L729 5" stroke="#555" stroke-width="1.2"/><path d="M742 14L755 5M743 17L756 8M745 8V17M748 6V15M751 4V13" stroke="#555" stroke-width="1" fill="none"/><text x="753" y="20" font-size="7" font-weight="bold" fill="#444" font-family="Liberation Sans, sans-serif">E</text><path d="M771 4.5H785M771 8.5H785M771 11.5H785M771 15.5H781" stroke="#666" stroke-dasharray="1,1" shape-rendering="crispEdges"/><text x="781" y="20" font-size="7" font-weight="bold" fill="#444" font-family="Liberation Sans, sans-serif">F</text><text x="801" y="16" font-size="11" font-weight="bold" fill="#606060" font-family="Liberation Sans, sans-serif">A</text><rect x="828.5" y="4.5" width="11" height="12" fill="none" stroke="#666" stroke-dasharray="1,1" shape-rendering="crispEdges"/><text x="830.5" y="15" font-size="11" font-weight="bold" fill="#606060" font-family="Liberation Sans, sans-serif">T</text><path d="M858 4L861 6.5L858 9L855 6.5Z M866 12L869 14.5L866 17L863 14.5Z" fill="#444"/><path d="M857 10L861 14L864 10" stroke="#444" stroke-width="1.6" fill="none"/><circle cx="1618" cy="8" r="3.5" fill="none" stroke="#2060d0" stroke-width="1.5"/><path d="M1615 11L1611 15" stroke="#2060d0" stroke-width="2.2"/><path d="M1653 12L1655 15L1650 12.5Z" fill="#666"/><ellipse cx="1651" cy="8" rx="6" ry="4.5" fill="#f4f4f6" stroke="#999"/><path d="M1641 15L1639.5 18L1644 15.5Z" fill="#666"/><ellipse cx="1643" cy="12" rx="5.5" ry="4" fill="#f4f4f6" stroke="#999"/></svg><div id="panel">
<div style="left:0;top:47px;width:52px;height:25px;background:linear-gradient(#f85656,#e03838);border:1px solid #b80000;border-bottom:none;box-sizing:border-box"></div>
<div style="left:4px;top:70px;width:44px;height:1px;background:#9a0000;"></div><div style="left:4px;top:71px;width:44px;height:1px;background:#f06060;"></div>
<div style="left:12px;top:52px;font-size:11.5px;color:#fff;letter-spacing:-0.2px">SELL</div>
<div style="left:167px;top:47px;width:52px;height:25px;background:linear-gradient(#f85656,#e03838);border:1px solid #b80000;border-bottom:none;box-sizing:border-box"></div>
<div style="left:171px;top:70px;width:44px;height:1px;background:#9a0000;"></div><div style="left:171px;top:71px;width:44px;height:1px;background:#f06060;"></div>
<div style="left:180px;top:52px;font-size:11.5px;color:#fff;letter-spacing:-0.2px">BUY</div>
<div style="left:52px;top:47px;width:115px;height:24px;background:#f0f0f0;"></div>
<div style="left:54px;top:47px;width:110px;height:21px;background:#fff;border:1px solid #b8b8b8;box-sizing:border-box"></div>
<div style="left:55px;top:48px;width:20px;height:19px;background:linear-gradient(#f4f4f4,#dcdcdc);border-right:1px solid #c8c8c8"></div>
<div style="left:143px;top:48px;width:20px;height:19px;background:linear-gradient(#f4f4f4,#dcdcdc);border-left:1px solid #c8c8c8"></div>
<div style="left:62px;top:56px;width:0;height:0;border-left:3px solid transparent;border-right:3px solid transparent;border-top:3px solid #5070c0"></div>
<div style="left:150px;top:56px;width:0;height:0;border-left:3px solid transparent;border-right:3px solid transparent;border-bottom:3px solid #5070c0"></div>
<div style="left:116px;top:51px;font-size:12px;color:#000">1.00</div>
<div style="left:0;top:71px;width:109px;height:40px;background:linear-gradient(#e03434,#b00606);border:1px solid #b00000;border-top:none;box-sizing:border-box"></div>
<div style="left:111px;top:71px;width:108px;height:40px;background:linear-gradient(#e03434,#b00606);border:1px solid #b00000;border-top:none;box-sizing:border-box"></div>
<div style="left:16px;top:91px;font-size:12.5px;font-weight:bold;color:#fff">28604</div>
<div style="left:53px;top:71px;font-size:32px;color:#fff">.5</div>
<div style="left:126px;top:91px;font-size:12.5px;font-weight:bold;color:#fff">28612</div>
<div style="left:163px;top:71px;font-size:32px;color:#fff">.5</div>
</div>
<div class="cn">多空转折点</div>
</body></html>
